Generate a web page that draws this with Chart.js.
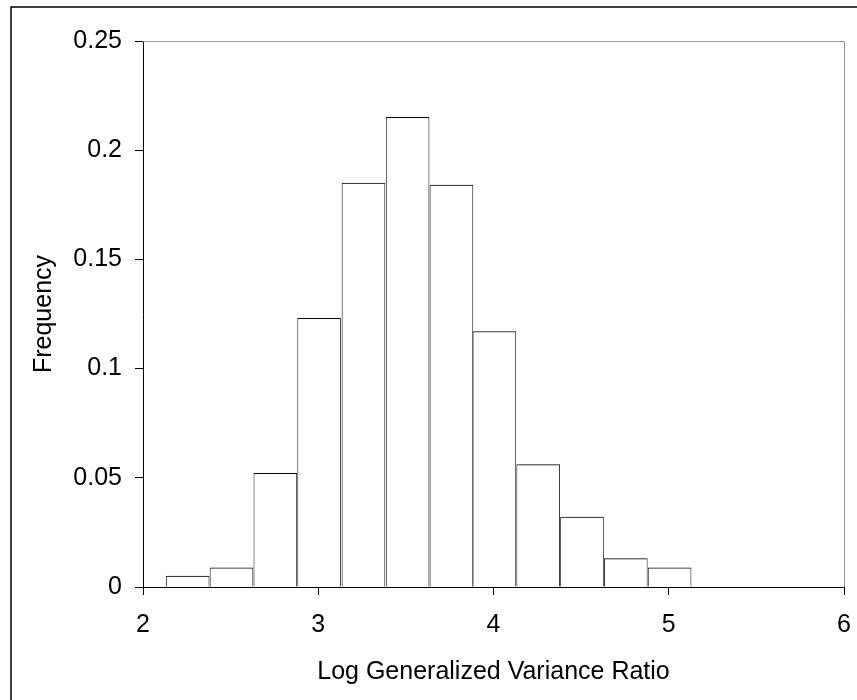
<!DOCTYPE html>
<html>
<head>
<meta charset="utf-8">
<script src="https://cdn.jsdelivr.net/npm/chart.js@4/dist/chart.umd.min.js"></script>
<style>
  html, body { margin: 0; padding: 0; background: #fff; }
  canvas { display: block; }
</style>
</head>
<body>
<canvas id="canvas" width="857" height="700"></canvas>
<script>
// histogram bins (bin centres) and relative frequencies
var binCenters = [2.255, 2.505, 2.755, 3.005, 3.258, 3.51, 3.76, 4.005, 4.255, 4.505, 4.755, 5.005];
var frequency  = [0.005, 0.0088, 0.052, 0.123, 0.185, 0.215, 0.184, 0.117, 0.056, 0.032, 0.013, 0.0088];

var xTickLabels = ['2', '3', '4', '5', '6'];
var yTickLabels = ['0', '0.05', '0.1', '0.15', '0.2', '0.25'];

var xTitle = 'Log Generalized Variance Ratio';
var yTitle = 'Frequency';

var points = [];
for (var i = 0; i < binCenters.length; i++) {
    points.push({ x: binCenters[i], y: frequency[i] });
}

var fontFamily = '"Liberation Sans", Arial, sans-serif';

// outer frame + white background, and the grey top/right edge of the plot box
var framePlugin = {
    id: 'frame',
    beforeDraw: function (chart) {
        var ctx = chart.ctx;
        ctx.save();
        ctx.fillStyle = '#fff';
        ctx.fillRect(0, 0, chart.width, chart.height);
        ctx.strokeStyle = '#000';
        ctx.lineWidth = 1.5;
        ctx.strokeRect(11, 7, chart.width + 20, chart.height + 20);
        ctx.restore();
    },
    afterDraw: function (chart) {
        var a = chart.chartArea;
        var ctx = chart.ctx;
        ctx.save();
        ctx.strokeStyle = '#999';
        ctx.lineWidth = 1;
        ctx.beginPath();
        ctx.moveTo(a.left, a.top + 0.5);
        ctx.lineTo(a.right + 0.5, a.top + 0.5);
        ctx.lineTo(a.right + 0.5, a.bottom);
        ctx.stroke();
        ctx.restore();
    }
};

var ctx = document.getElementById('canvas').getContext('2d');
window.myHist = new Chart(ctx, {
    type: 'bar',
    data: {
        datasets: [{
            label: yTitle,
            data: points,
            backgroundColor: '#fff',
            borderColor: '#000',
            borderWidth: { top: 1, left: 0.75, right: 0.75, bottom: 0 },
            borderSkipped: false,
            barPercentage: 1,
            categoryPercentage: 1
        }]
    },
    options: {
        responsive: false,
        animation: false,
        layout: { padding: { left: 0, top: 41, right: 13, bottom: 0 } },
        plugins: {
            legend: { display: false },
            tooltip: { enabled: false }
        },
        scales: {
            x: {
                type: 'linear',
                min: 2,
                max: 6,
                offset: false,
                afterFit: function (scale) {
                    scale.height = 113;
                    scale.paddingLeft = 0;
                    scale.paddingRight = 0;
                },
                ticks: {
                    stepSize: 1,
                    padding: 15,
                    color: '#000',
                    font: { family: fontFamily, size: 25 },
                    callback: function (v, idx) { return xTickLabels[idx]; }
                },
                grid: { offset: false, drawOnChartArea: false, drawTicks: true, tickLength: 8, color: '#000' },
                border: { display: true, color: '#000', width: 1 },
                title: {
                    display: true,
                    text: xTitle,
                    color: '#000',
                    font: { family: fontFamily, size: 25 },
                    padding: { top: 0, bottom: 13 }
                }
            },
            y: {
                min: 0,
                max: 0.25,
                afterFit: function (scale) { scale.width = 143; },
                ticks: {
                    stepSize: 0.05,
                    padding: 13,
                    color: '#000',
                    font: { family: fontFamily, size: 25 },
                    callback: function (v, idx) { return yTickLabels[idx]; }
                },
                grid: { drawOnChartArea: false, drawTicks: true, tickLength: 8, color: '#000' },
                border: { display: true, color: '#000', width: 1 },
                title: {
                    display: true,
                    text: yTitle,
                    color: '#000',
                    font: { family: fontFamily, size: 25 },
                    padding: { top: 29, bottom: 0 }
                }
            }
        }
    },
    plugins: [framePlugin]
});
</script>
</body>
</html>
